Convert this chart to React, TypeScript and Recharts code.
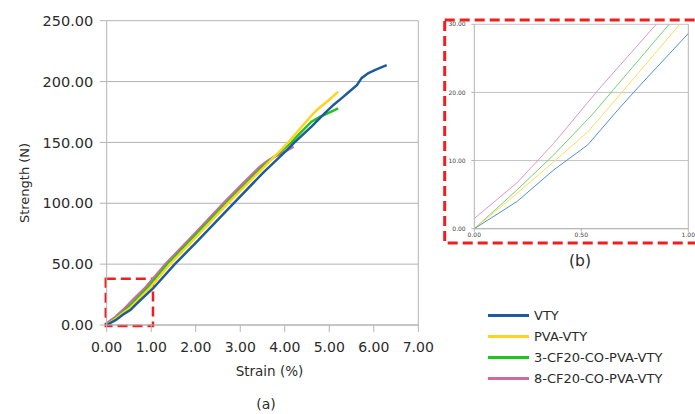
// Tensile strength vs strain for the four yarn types, with a zoomed inset of the origin.

import { LineChart, Line, XAxis, YAxis, CartesianGrid, ReferenceLine, ReferenceArea } from 'recharts';

const vtyStrain = [0, 0.2, 0.37, 0.53, 0.67, 0.77, 1.04, 1.53, 2.0, 2.85, 3.5, 4.0, 4.22, 4.6, 4.9, 5.1, 5.3, 5.46, 5.62, 5.73, 5.88, 6.06, 6.29];
const vtyStrength = [0, 4.0, 8.6, 12.3, 17.4, 20.9, 30, 50, 67.5, 100, 124.5, 142, 150, 163, 174, 181, 187, 192, 197, 203, 207, 210, 213.5];

const pvaStrain = [0, 0.2, 0.37, 0.53, 0.7, 0.96, 1.42, 2.0, 2.72, 3.5, 4.08, 4.42, 4.6, 4.72, 5.0, 5.2];
const pvaStrength = [0, 5.2, 9.8, 14.2, 20.4, 30, 50, 72, 100, 128.5, 150, 164.5, 172, 176.6, 185, 191.7];

const cf3Strain = [0, 0.2, 0.37, 0.55, 0.65, 0.91, 1.37, 2.0, 2.68, 3.5, 4.15, 4.34, 4.6, 4.79, 5.0, 5.2];
const cf3Strength = [0, 5.7, 10.8, 16.7, 20.4, 30, 50, 74, 100, 130, 150, 157.5, 167, 171, 174.5, 178];

const cf8Strain = [0, 0.2, 0.37, 0.58, 0.85, 1.32, 2.0, 2.62, 3.0, 3.44, 3.6, 3.75, 4.0, 4.2];
const cf8Strength = [1.5, 6.75, 12.5, 20.4, 30, 50, 76, 100, 114, 130, 134.5, 138, 142.5, 146.5];

const mainXTicks = [0, 1, 2, 3, 4, 5, 6, 7];
const mainYTicks = [0, 50, 100, 150, 200, 250];
const insetXTicks = [0, 0.5, 1];
const insetYTicks = [0, 10, 20, 30];

const toPoints = (xs: number[], ys: number[]) => xs.map((x, i) => ({ x, y: ys[i] }));

const series = [
  { name: 'VTY', data: toPoints(vtyStrain, vtyStrength), color: '#1f5b9c', light: '#4f91cc' },
  { name: 'PVA-VTY', data: toPoints(pvaStrain, pvaStrength), color: '#ffd320', light: '#ffdc55' },
  { name: '3-CF20-CO-PVA-VTY', data: toPoints(cf3Strain, cf3Strength), color: '#22c222', light: '#72d072' },
  { name: '8-CF20-CO-PVA-VTY', data: toPoints(cf8Strain, cf8Strength), color: '#cf6a9c', light: '#e096bc' },
];

// drawn last = on top, so VTY goes last
const drawOrder = [...series].reverse();

const GRID = '#b3b3b3';
const TEXT = '#2b2b2b';
const fmt = (v: number) => v.toFixed(2);

function Caption({ x, y, size, children, rotate }: { x: number; y: number; size: number; children: string; rotate?: boolean }) {
  return (
    <div
      style={{
        position: 'absolute',
        left: x,
        top: y,
        transform: `translate(-50%, -50%)${rotate ? ' rotate(-90deg)' : ''}`,
        fontSize: size,
        lineHeight: 1,
        whiteSpace: 'nowrap',
        color: TEXT,
      }}
    >
      {children}
    </div>
  );
}

export default function App() {
  return (
    <div
      style={{
        position: 'absolute',
        left: 0,
        top: 0,
        width: 695,
        height: 414,
        background: '#fff',
        fontFamily: '"DejaVu Sans", sans-serif',
        overflow: 'hidden',
      }}
    >
      {/* main chart */}
      <div style={{ position: 'absolute', left: 0, top: 0 }}>
        <LineChart width={440} height={414} margin={{ top: 20.7, right: 21.7, bottom: 59, left: 36.7 }}>
          <CartesianGrid vertical={false} stroke={GRID} />
          <XAxis
            dataKey="x"
            type="number"
            domain={[0, 7]}
            ticks={mainXTicks}
            tickFormatter={fmt}
            height={30}
            stroke={GRID}
            tickSize={7}
            tickMargin={9.8}
            tick={{ fill: TEXT, fontSize: 14 }}
          />
          <YAxis
            type="number"
            domain={[0, 250]}
            ticks={mainYTicks}
            tickFormatter={fmt}
            width={70}
            stroke={GRID}
            tickSize={7}
            tickMargin={6.4}
            tick={{ fill: TEXT, fontSize: 14.5 }}
          />
          <ReferenceLine x={7} stroke={GRID} />
          {drawOrder.map((s) => (
            <Line
              key={s.name}
              data={s.data}
              dataKey="y"
              name={s.name}
              type="linear"
              stroke={s.color}
              strokeWidth={2.5}
              dot={false}
              isAnimationActive={false}
            />
          ))}
          <ReferenceArea
            x1={-0.02}
            x2={1.04}
            y1={-0.9}
            y2={38}
            fill="none"
            fillOpacity={0}
            stroke="#f01e1e"
            strokeWidth={2.5}
            strokeDasharray="10 5"
            ifOverflow="visible"
          />
        </LineChart>
      </div>

      {/* inset: zoom on the origin */}
      <div style={{ position: 'absolute', left: 440, top: 0 }}>
        <LineChart width={255} height={280} margin={{ top: 24.3, right: 6.7, bottom: 39.3, left: 4.3 }}>
          <CartesianGrid vertical={false} stroke={GRID} strokeWidth={0.8} />
          <XAxis
            dataKey="x"
            type="number"
            domain={[0, 1]}
            allowDataOverflow
            ticks={insetXTicks}
            tickFormatter={fmt}
            height={12}
            stroke={GRID}
            tickSize={3}
            tickMargin={1.2}
            tick={{ fill: '#444', fontSize: 6 }}
          />
          <YAxis
            type="number"
            domain={[0, 30]}
            allowDataOverflow
            ticks={insetYTicks}
            tickFormatter={fmt}
            width={30}
            stroke={GRID}
            tickSize={3}
            tickMargin={5.6}
            tick={{ fill: '#444', fontSize: 6 }}
          />
          <ReferenceLine x={1} stroke={GRID} />
          {drawOrder.map((s) => (
            <Line
              key={s.name}
              data={s.data}
              dataKey="y"
              name={s.name}
              type="linear"
              stroke={s.light}
              strokeWidth={1}
              dot={false}
              isAnimationActive={false}
            />
          ))}
        </LineChart>
      </div>

      {/* dashed frame round the inset */}
      <svg style={{ position: 'absolute', left: 0, top: 0 }} width={695} height={414}>
        <rect x={444.7} y={20} width={270} height={223} fill="none" stroke="#f01e1e" strokeWidth={3} strokeDasharray="10 5" />
      </svg>

      <Caption x={24} y={182.5} size={13} rotate>
        Strength (N)
      </Caption>
      <Caption x={269.5} y={371.5} size={13.5}>
        Strain (%)
      </Caption>
      <Caption x={266} y={404} size={14}>
        (a)
      </Caption>
      <Caption x={580} y={262} size={15.5}>
        (b)
      </Caption>

      {/* legend */}
      <div style={{ position: 'absolute', left: 488, top: 305 }}>
        {series.map((s) => (
          <div key={s.name} style={{ display: 'flex', alignItems: 'center', height: 21, fontSize: 13, color: TEXT }}>
            <span style={{ display: 'inline-block', width: 41, height: 2.5, background: s.color, marginRight: 5 }} />
            <span style={{ lineHeight: 1 }}>{s.name}</span>
          </div>
        ))}
      </div>
    </div>
  );
}
